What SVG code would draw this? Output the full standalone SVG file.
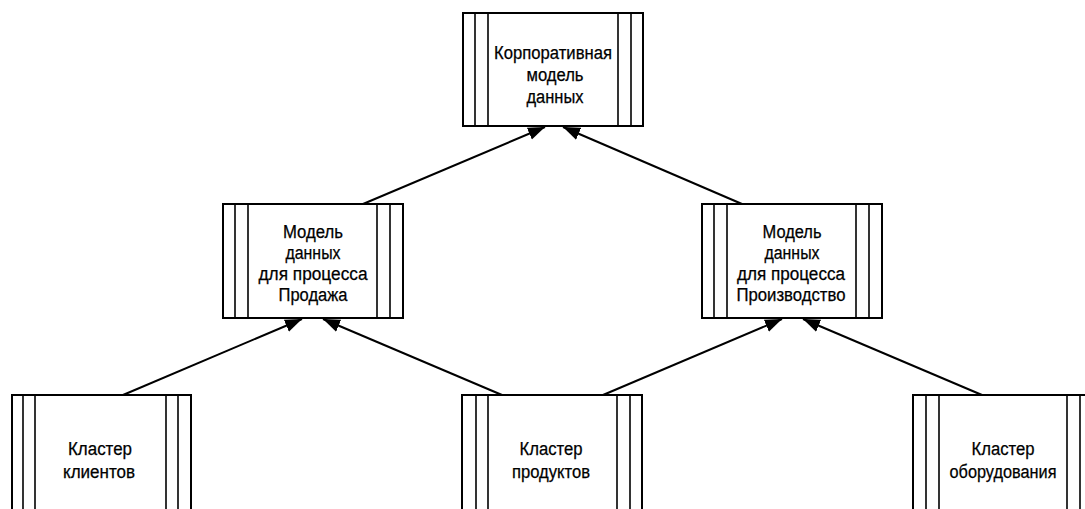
<svg xmlns="http://www.w3.org/2000/svg" width="1085" height="509" viewBox="0 0 1085 509">
<style>
.box{fill:#fff;stroke:#000;stroke-width:2}
.st{stroke:#000;stroke-width:1.6}
.conn{stroke:#000;stroke-width:2;fill:none}
text{font-family:"Liberation Sans",Arial,sans-serif;font-size:18px;fill:#000;stroke:#000;stroke-width:0.25;text-anchor:middle}
</style>
<defs>
<marker id="ah" markerUnits="userSpaceOnUse" markerWidth="18" markerHeight="14" viewBox="0 0 18 14" refX="17" refY="7" orient="auto">
<path d="M0,0.5 L17,7 L0,13.5 Z" fill="#000"/>
</marker>
</defs>
<rect width="1085" height="509" fill="#fff"/>
<g id="connectors">
<line class="conn" x1="363" y1="204" x2="545" y2="127" marker-end="url(#ah)"/>
<line class="conn" x1="742" y1="204" x2="563" y2="127" marker-end="url(#ah)"/>
<line class="conn" x1="123" y1="395" x2="302" y2="319" marker-end="url(#ah)"/>
<line class="conn" x1="502" y1="395" x2="323" y2="319" marker-end="url(#ah)"/>
<line class="conn" x1="603" y1="395" x2="782" y2="319" marker-end="url(#ah)"/>
<line class="conn" x1="982" y1="395" x2="803" y2="319" marker-end="url(#ah)"/>
</g>
<g id="n-corp">
<rect class="box" x="463" y="13" width="180" height="113"/>
<line class="st" x1="475" y1="13" x2="475" y2="126"/><line class="st" x1="488" y1="13" x2="488" y2="126"/>
<line class="st" x1="618" y1="13" x2="618" y2="126"/><line class="st" x1="631" y1="13" x2="631" y2="126"/>
<text x="553" y="59" textLength="118" lengthAdjust="spacingAndGlyphs">Корпоративная</text>
<text x="555" y="81" textLength="57" lengthAdjust="spacingAndGlyphs">модель</text>
<text x="555" y="103" textLength="57" lengthAdjust="spacingAndGlyphs">данных</text>
</g>
<g id="n-sales">
<rect class="box" x="223" y="204" width="180" height="114"/>
<line class="st" x1="235" y1="204" x2="235" y2="318"/><line class="st" x1="248" y1="204" x2="248" y2="318"/>
<line class="st" x1="377" y1="204" x2="377" y2="318"/><line class="st" x1="390" y1="204" x2="390" y2="318"/>
<text x="313" y="238" textLength="60" lengthAdjust="spacingAndGlyphs">Модель</text>
<text x="313" y="259" textLength="55" lengthAdjust="spacingAndGlyphs">данных</text>
<text x="313" y="280" textLength="109" lengthAdjust="spacingAndGlyphs">для процесса</text>
<text x="313" y="301" textLength="69" lengthAdjust="spacingAndGlyphs">Продажа</text>
</g>
<g id="n-prod">
<rect class="box" x="702" y="204" width="180" height="114"/>
<line class="st" x1="714" y1="204" x2="714" y2="318"/><line class="st" x1="727" y1="204" x2="727" y2="318"/>
<line class="st" x1="856" y1="204" x2="856" y2="318"/><line class="st" x1="869" y1="204" x2="869" y2="318"/>
<text x="792" y="238" textLength="59" lengthAdjust="spacingAndGlyphs">Модель</text>
<text x="792" y="259" textLength="55" lengthAdjust="spacingAndGlyphs">данных</text>
<text x="791" y="280" textLength="108" lengthAdjust="spacingAndGlyphs">для процесса</text>
<text x="791" y="301" textLength="109" lengthAdjust="spacingAndGlyphs">Производство</text>
</g>
<g id="n-clients">
<rect class="box" x="12" y="395" width="179" height="130"/>
<line class="st" x1="23" y1="395" x2="23" y2="509"/><line class="st" x1="35" y1="395" x2="35" y2="509"/>
<line class="st" x1="166" y1="395" x2="166" y2="509"/><line class="st" x1="178" y1="395" x2="178" y2="509"/>
<text x="100" y="455" textLength="64" lengthAdjust="spacingAndGlyphs">Кластер</text>
<text x="99" y="478" textLength="72" lengthAdjust="spacingAndGlyphs">клиентов</text>
</g>
<g id="n-products">
<rect class="box" x="462" y="395" width="180" height="130"/>
<line class="st" x1="476" y1="395" x2="476" y2="509"/><line class="st" x1="488" y1="395" x2="488" y2="509"/>
<line class="st" x1="617" y1="395" x2="617" y2="509"/><line class="st" x1="630" y1="395" x2="630" y2="509"/>
<text x="551" y="455" textLength="63" lengthAdjust="spacingAndGlyphs">Кластер</text>
<text x="551" y="478" textLength="78" lengthAdjust="spacingAndGlyphs">продуктов</text>
</g>
<g id="n-equipment">
<rect class="box" x="913" y="395" width="180" height="130"/>
<line class="st" x1="926" y1="395" x2="926" y2="509"/><line class="st" x1="939" y1="395" x2="939" y2="509"/>
<line class="st" x1="1067" y1="395" x2="1067" y2="509"/><line class="st" x1="1080" y1="395" x2="1080" y2="509"/>
<text x="1003" y="455" textLength="63" lengthAdjust="spacingAndGlyphs">Кластер</text>
<text x="1003" y="478" textLength="107" lengthAdjust="spacingAndGlyphs">оборудования</text>
</g>
</svg>
